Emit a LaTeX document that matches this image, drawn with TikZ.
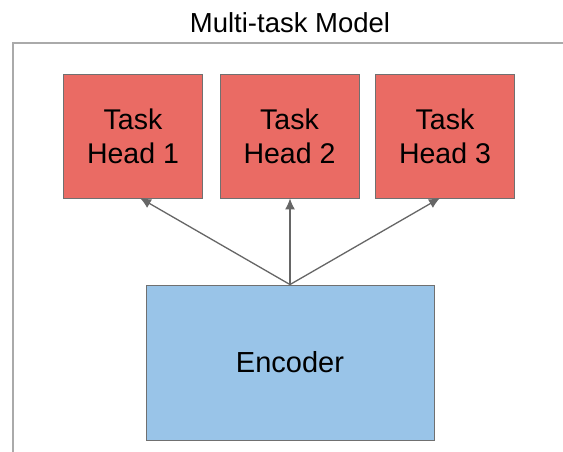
\documentclass[tikz,border=0pt]{standalone}
\usepackage{fontspec}
\setmainfont{Liberation Sans}
\usetikzlibrary{arrows.meta}
\definecolor{headred}{HTML}{EA6B64}
\definecolor{encblue}{HTML}{99C4E8}
\definecolor{edgegray}{HTML}{707070}
\definecolor{framegray}{HTML}{AAAAAA}
\definecolor{arrowgray}{HTML}{666666}
\begin{document}
\begin{tikzpicture}[x=1pt,y=-1pt,
  headbox/.style={draw=edgegray,line width=0.9pt,fill=headred,minimum width=139pt,minimum height=124pt,inner sep=0pt,align=center,font=\fontsize{28.5}{34}\selectfont},
  encbox/.style={draw=edgegray,line width=0.9pt,fill=encblue,minimum width=288pt,minimum height=155pt,inner sep=0pt,font=\fontsize{29}{34}\selectfont},
  link/.style={draw=arrowgray,line width=1.3pt,-{Latex[length=11pt,width=10pt]}}]
\useasboundingbox (0,0) rectangle (563,452);
\fill[white] (0,0) rectangle (563,452);
% outer frame
\draw[framegray,line width=2pt] (13,460) -- (13,43) -- (570,43);
\node[font=\fontsize{27.5}{32}\selectfont,anchor=base] (title) at (290,33) {Multi-task Model};
\node[headbox] (h1) at (133,136) {Task\\Head 1};
\node[headbox] (h2) at (289.5,136) {Task\\Head 2};
\node[headbox] (h3) at (445,136) {Task\\Head 3};
\node[encbox] (enc) at (290,362.5) {Encoder};
\coordinate (t1) at (140,198);
\coordinate (t3) at (440,198);
\draw[link] (enc.north) -- (t1);
\draw[link] (enc.north) -- (enc.north |- h2.south);
\draw[link] (enc.north) -- (t3);
\end{tikzpicture}
\end{document}
